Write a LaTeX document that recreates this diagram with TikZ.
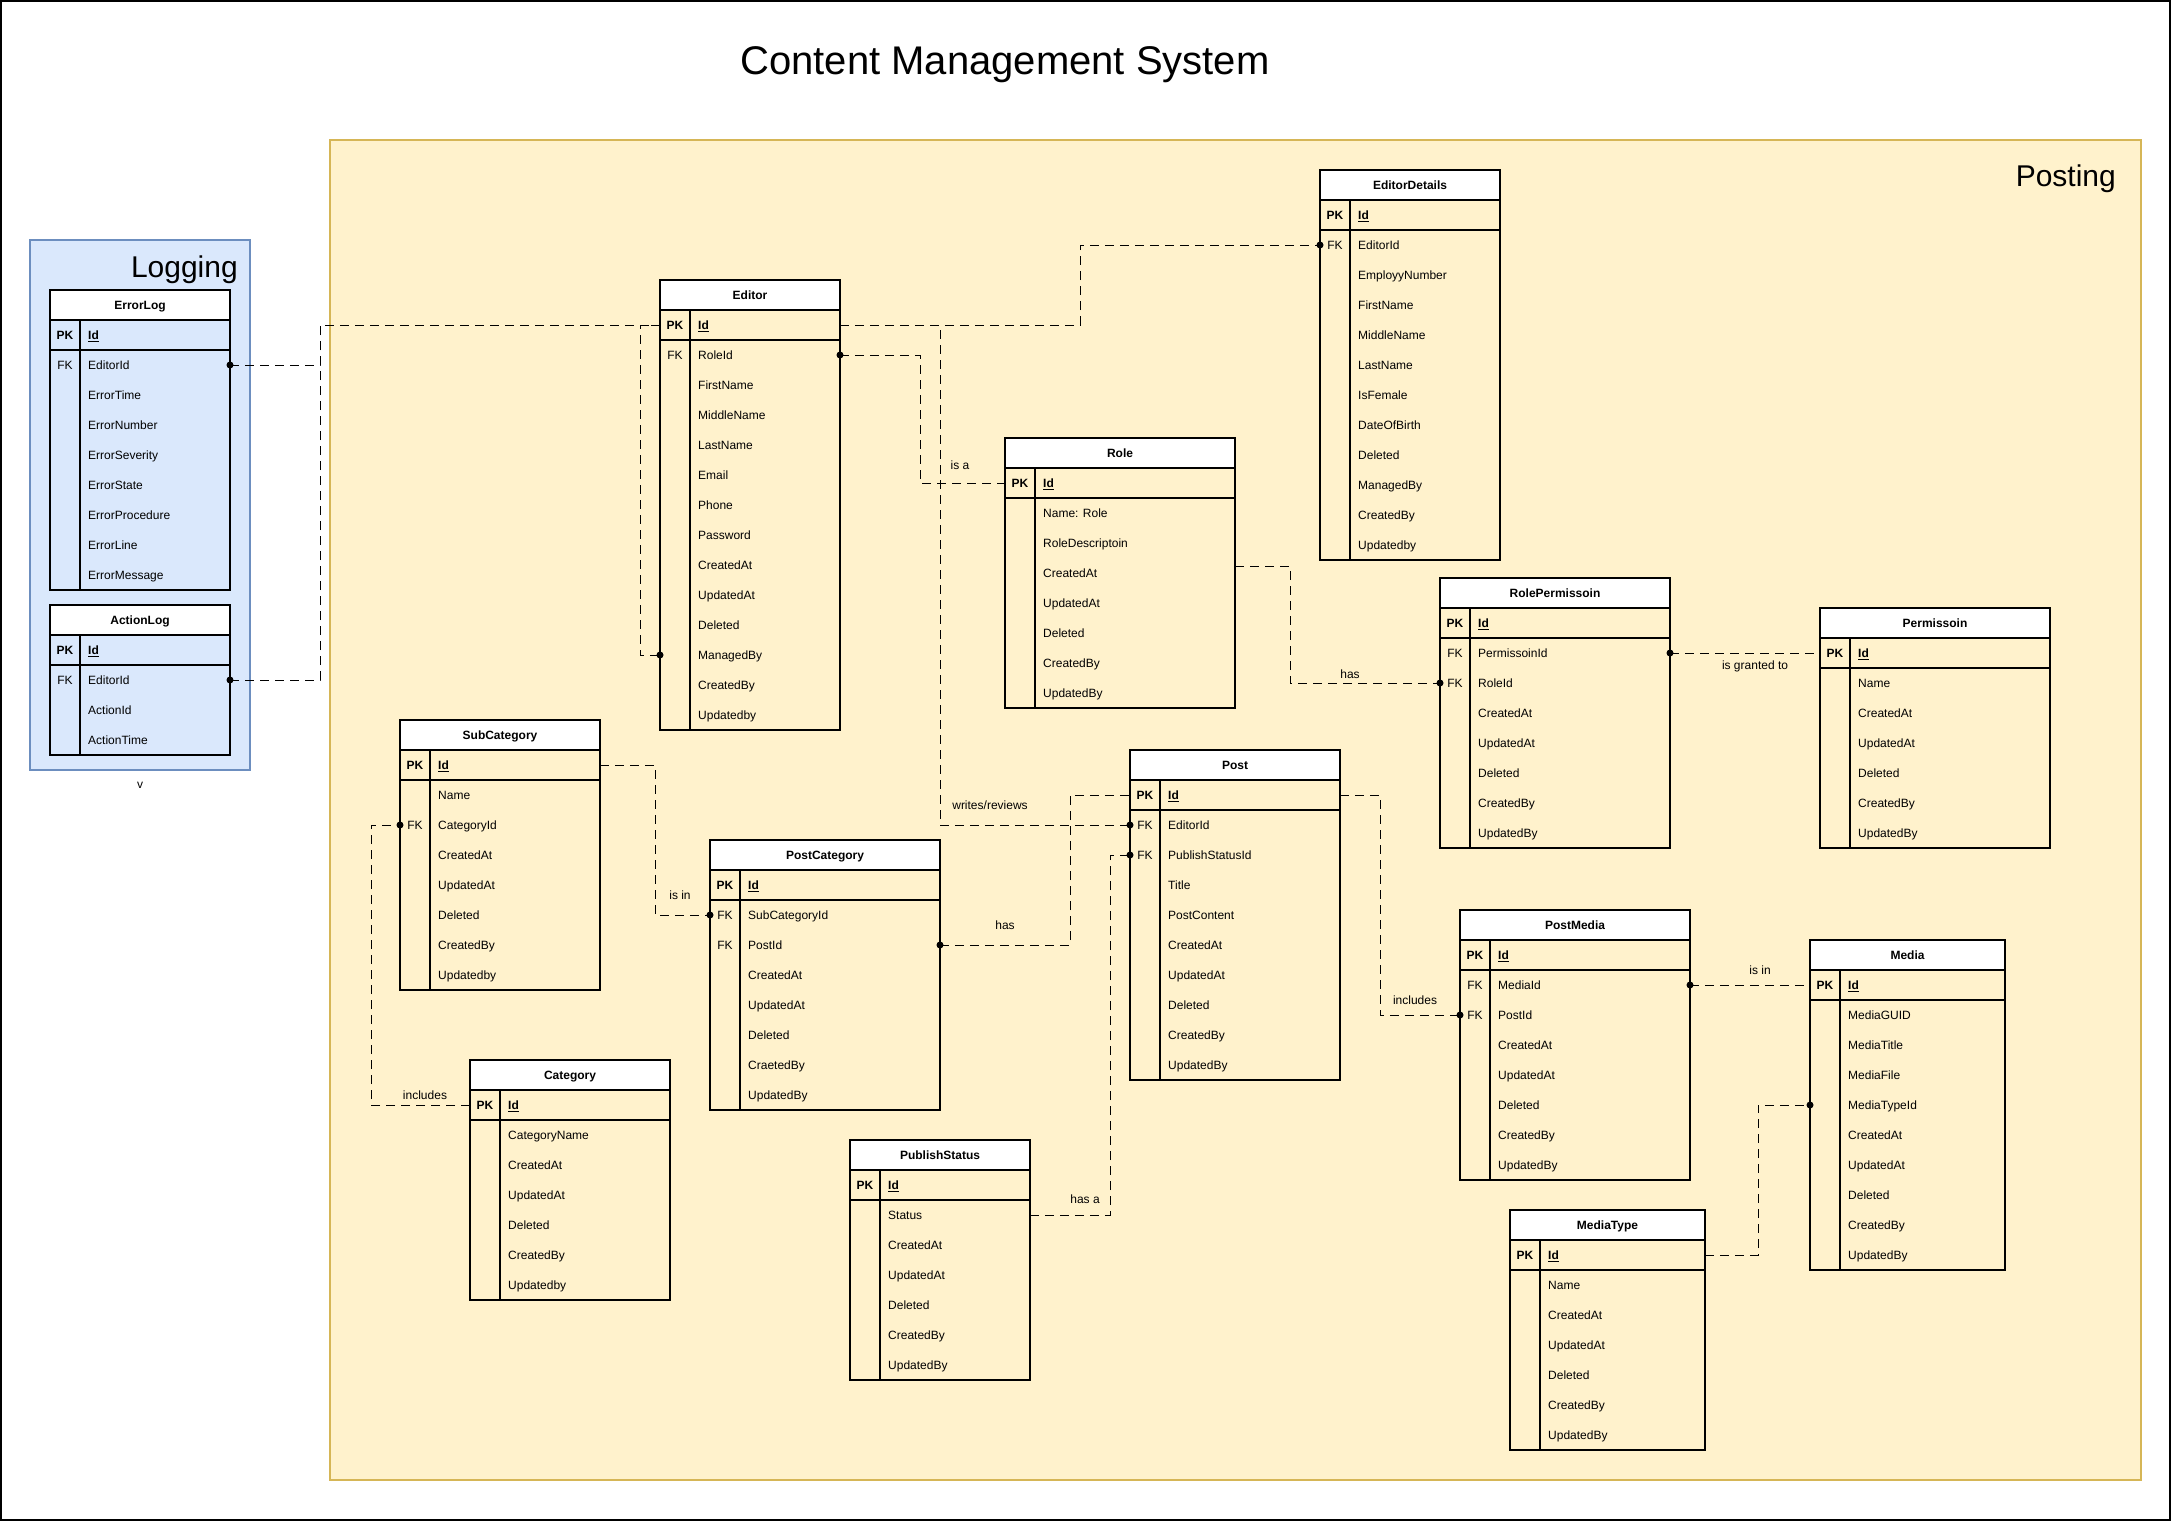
\documentclass[tikz,border=0pt]{standalone}
\usepackage{fontspec}
\setmainfont{Liberation Sans}
\usepackage{xcolor}
\usepackage{tikz}
\usetikzlibrary{positioning,calc}

\definecolor{postfill}{HTML}{FFF2CC}
\definecolor{postline}{HTML}{D6B656}
\definecolor{logfill}{HTML}{DAE8FC}
\definecolor{logline}{HTML}{6C8EBF}

\newcommand{\tblfont}{\fontsize{12}{14}\selectfont}

% #1 name, #2 left, #3 top, #4 width, #5 rows, #6 title, #7 key/field list
\newcommand{\ertable}[7]{%
  \node[tblhead, minimum width=#4pt, anchor=north west] (#1) at (#2,#3) {#6};
  \node[tblrow, minimum width=#4pt, anchor=north west] (#1-pk) at (#2,#3+30) {};
  \node[keytxt, font=\tblfont\bfseries] (#1-pkkey) at (#2+15,#3+45) {PK};
  \node[fieldtxt] (#1-pkfield) at (#2+38,#3+45) {\underline{\textbf{Id}}};
  \foreach \k/\f [count=\i] in {#7} {
    \node[tblrow, minimum width=#4pt, anchor=north west] (#1-r\i) at (#2,{#3+30+30*\i}) {};
    \node[keytxt] (#1-k\i) at (#2+15,{#3+45+30*\i}) {\k};
    \node[fieldtxt] (#1-f\i) at (#2+38,{#3+45+30*\i}) {\f};
  }
  \draw[tblline] (#2,#3) rectangle ({#2+#4},{#3+60+30*#5});
  \draw[tblline] (#2,#3+30) -- ++(#4,0);
  \draw[tblline] (#2,#3+60) -- ++(#4,0);
  \draw[tblline] (#2+30,#3+30) -- (#2+30,{#3+60+30*#5});
}

\begin{document}
\begin{tikzpicture}[x=1pt, y=-1pt,
    tblhead/.style={fill=white, minimum height=30pt, inner sep=0pt, outer sep=0pt,
      font=\tblfont\bfseries, text height=8.6pt, text depth=0pt},
    tblrow/.style={minimum height=30pt, inner sep=0pt, outer sep=0pt},
    keytxt/.style={inner sep=0pt, font=\tblfont, text height=8.6pt, text depth=0pt},
    fieldtxt/.style={keytxt, anchor=west},
    lbl/.style={keytxt},
    tblline/.style={line width=1.1pt},
    rel/.style={dash pattern=on 9pt off 6pt, line width=0.9pt},
    fkdot/.style={circle, fill, inner sep=0pt, minimum size=7pt}]

    \useasboundingbox (0,0) rectangle (2171,1521);
    \draw[line width=2pt] (1,1) rectangle (2170,1520);

    % Title
    \node[anchor=base, inner sep=0pt, font=\fontsize{40}{48}\selectfont] (title) at (1005,74) {Content Management System};

    % Containers
    \draw[fill=postfill, draw=postline, line width=1.5pt] (330,140) rectangle (2141,1480);
    \node[anchor=base east, inner sep=0pt, font=\fontsize{30}{36}\selectfont] (posting) at (2116,186) {Posting};
    \draw[fill=logfill, draw=logline, line width=1.5pt] (30,240) rectangle (250,770);
    \node[anchor=base east, inner sep=0pt, font=\fontsize{30}{36}\selectfont] (logging) at (238,277) {Logging};
    \node[lbl] (vmark) at (140,784) {v};

    % Logging tables
    \ertable{errorlog}{50}{290}{180}{8}{ErrorLog}{FK/EditorId,/ErrorTime,/ErrorNumber,/ErrorSeverity,/ErrorState,/ErrorProcedure,/ErrorLine,/ErrorMessage}
    \ertable{actionlog}{50}{605}{180}{3}{ActionLog}{FK/EditorId,/ActionId,/ActionTime}

    % Posting tables
    \ertable{editor}{660}{280}{180}{13}{Editor}{FK/RoleId,/FirstName,/MiddleName,/LastName,/Email,/Phone,/Password,/CreatedAt,/UpdatedAt,/Deleted,/ManagedBy,/CreatedBy,/Updatedby}
    \ertable{editordetails}{1320}{170}{180}{11}{EditorDetails}{FK/EditorId,/EmployyNumber,/FirstName,/MiddleName,/LastName,/IsFemale,/DateOfBirth,/Deleted,/ManagedBy,/CreatedBy,/Updatedby}
    \ertable{role}{1005}{438}{230}{7}{Role}{/Name: Role,/RoleDescriptoin,/CreatedAt,/UpdatedAt,/Deleted,/CreatedBy,/UpdatedBy}
    \ertable{rolepermissoin}{1440}{578}{230}{7}{RolePermissoin}{FK/PermissoinId,FK/RoleId,/CreatedAt,/UpdatedAt,/Deleted,/CreatedBy,/UpdatedBy}
    \ertable{permissoin}{1820}{608}{230}{6}{Permissoin}{/Name,/CreatedAt,/UpdatedAt,/Deleted,/CreatedBy,/UpdatedBy}
    \ertable{subcategory}{400}{720}{200}{7}{SubCategory}{/Name,FK/CategoryId,/CreatedAt,/UpdatedAt,/Deleted,/CreatedBy,/Updatedby}
    \ertable{postcategory}{710}{840}{230}{7}{PostCategory}{FK/SubCategoryId,FK/PostId,/CreatedAt,/UpdatedAt,/Deleted,/CraetedBy,/UpdatedBy}
    \ertable{category}{470}{1060}{200}{6}{Category}{/CategoryName,/CreatedAt,/UpdatedAt,/Deleted,/CreatedBy,/Updatedby}
    \ertable{post}{1130}{750}{210}{9}{Post}{FK/EditorId,FK/PublishStatusId,/Title,/PostContent,/CreatedAt,/UpdatedAt,/Deleted,/CreatedBy,/UpdatedBy}
    \ertable{publishstatus}{850}{1140}{180}{6}{PublishStatus}{/Status,/CreatedAt,/UpdatedAt,/Deleted,/CreatedBy,/UpdatedBy}
    \ertable{postmedia}{1460}{910}{230}{7}{PostMedia}{FK/MediaId,FK/PostId,/CreatedAt,/UpdatedAt,/Deleted,/CreatedBy,/UpdatedBy}
    \ertable{media}{1810}{940}{195}{9}{Media}{/MediaGUID,/MediaTitle,/MediaFile,/MediaTypeId,/CreatedAt,/UpdatedAt,/Deleted,/CreatedBy,/UpdatedBy}
    \ertable{mediatype}{1510}{1210}{195}{6}{MediaType}{/Name,/CreatedAt,/UpdatedAt,/Deleted,/CreatedBy,/UpdatedBy}

    % Relations
    \draw[rel] (errorlog-r1.east) node[fkdot]{} -- ++(90,0) |- (editor-pk.west);
    \draw[rel] (actionlog-r1.east) node[fkdot]{} -- ++(90,0) |- (editor-pk.west);
    \draw[rel] (editor-pk.west) -- ++(-20,0) |- (editor-r11.west) node[fkdot]{};
    \draw[rel] (editor-pk.east) -- ++(240,0) |- (editordetails-r1.west) node[fkdot]{};
    \draw[rel] (editor-pk.east) -- ++(100,0) |- (post-r1.west) node[fkdot]{};
    \draw[rel] (editor-r1.east) node[fkdot]{} -- ++(80,0) |- (role-pk.west);
    \draw[rel] ([yshift=7pt]role-r3.east) -- ++(55,0) |- (rolepermissoin-r2.west) node[fkdot]{};
    \draw[rel] (rolepermissoin-r1.east) node[fkdot]{} -- (permissoin-pk.west);
    \draw[rel] (subcategory-pk.east) -- ++(55,0) |- (postcategory-r1.west) node[fkdot]{};
    \draw[rel] (category-pk.west) -- ++(-99,0) |- (subcategory-r2.west) node[fkdot]{};
    \draw[rel] (postcategory-r2.east) node[fkdot]{} -- ++(130,0) |- (post-pk.west);
    \draw[rel] (publishstatus-r1.east) -- ++(80,0) |- (post-r2.west) node[fkdot]{};
    \draw[rel] (post-pk.east) -- ++(40,0) |- (postmedia-r2.west) node[fkdot]{};
    \draw[rel] (postmedia-r1.east) node[fkdot]{} -- (media-pk.west);
    \draw[rel] (mediatype-pk.east) -- ++(53,0) |- (media-r4.west) node[fkdot]{};

    % Relation labels
    \node[lbl] (lbl-writes) at (990,805) {writes/reviews};
    \node[lbl] (lbl-isa) at (960,465) {is a};
    \node[lbl] (lbl-hasperm) at (1350,674) {has};
    \node[lbl] (lbl-granted) at (1755,665) {is granted to};
    \node[lbl] (lbl-isinsub) at (680,895) {is in};
    \node[lbl] (lbl-inclcat) at (425,1095) {includes};
    \node[lbl] (lbl-haspost) at (1005,925) {has};
    \node[lbl] (lbl-hasa) at (1085,1199) {has a};
    \node[lbl] (lbl-inclmedia) at (1415,1000) {includes};
    \node[lbl] (lbl-isinmedia) at (1760,970) {is in};

\end{tikzpicture}
\end{document}
